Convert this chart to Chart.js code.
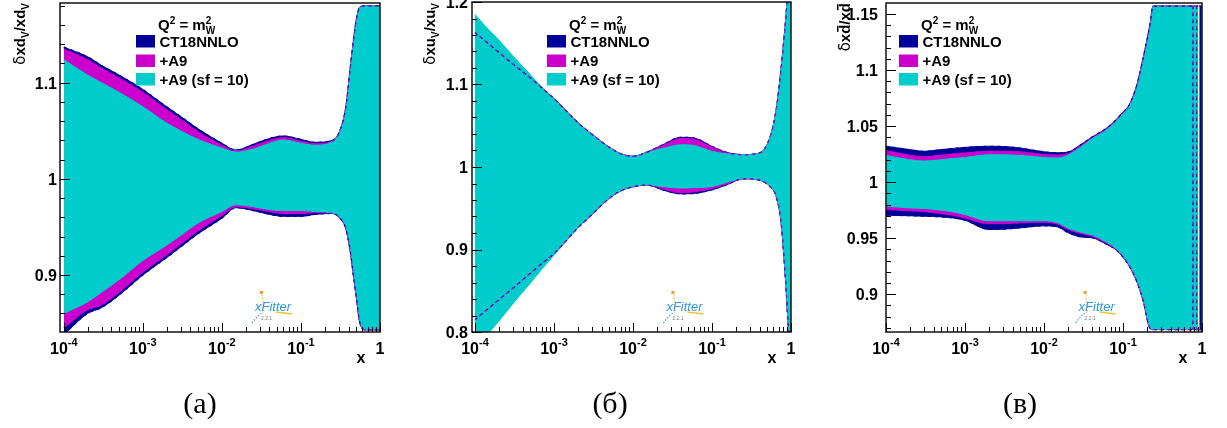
<!DOCTYPE html>
<html>
<head>
<meta charset="utf-8">
<script src="https://cdn.jsdelivr.net/npm/chart.js@4.4.1/dist/chart.umd.min.js"></script>
<style>
  html, body { margin: 0; padding: 0; background: #fff; }
  #wrap { position: relative; width: 1227px; height: 428px; overflow: hidden; }
  canvas { position: absolute; top: 0; }
</style>
</head>
<body>
<div id="wrap">
  <canvas id="pa" width="410" height="428" style="left:0px"></canvas>
  <canvas id="pb" width="410" height="428" style="left:410px"></canvas>
  <canvas id="pc" width="407" height="428" style="left:820px"></canvas>
</div>
<script>
// ---- relative uncertainty bands at Q^2 = m_W^2 ----
const legendLabels = ["CT18NNLO", "+A9", "+A9 (sf = 10)"];
const xTickExps = [-4, -3, -2, -1, 0];

// (a) d valence
const aX = [1e-4, 2e-4, 3e-4, 5e-4, 1e-3, 2e-3, 3e-3, 5e-3, 0.01, 0.015, 0.025, 0.04, 0.06, 0.1, 0.15, 0.25, 0.32, 0.37, 0.42, 0.46, 0.5, 0.55, 0.65, 1];
const aCtUp = [1.137, 1.127, 1.118, 1.108, 1.093, 1.075, 1.065, 1.052, 1.037, 1.030, 1.036, 1.042, 1.0446, 1.041, 1.038, 1.040, 1.053, 1.075, 1.115, 1.143, 1.165, 1.178, 1.18, 1.18];
const aCtLo = [0.838, 0.860, 0.866, 0.879, 0.900, 0.918, 0.929, 0.943, 0.959, 0.970, 0.967, 0.963, 0.961, 0.961, 0.963, 0.964, 0.958, 0.948, 0.925, 0.900, 0.878, 0.852, 0.843, 0.843];
const aA9Up = [1.135, 1.124, 1.115, 1.105, 1.090, 1.072, 1.062, 1.049, 1.035, 1.029, 1.034, 1.040, 1.0428, 1.039, 1.0365, 1.039, 1.053, 1.075, 1.115, 1.143, 1.165, 1.178, 1.18, 1.18];
const aA9Lo = [0.845, 0.864, 0.869, 0.882, 0.903, 0.921, 0.932, 0.946, 0.962, 0.971, 0.969, 0.966, 0.964, 0.964, 0.965, 0.964, 0.958, 0.948, 0.925, 0.900, 0.878, 0.852, 0.843, 0.843];
const aSfUp = [1.124, 1.108, 1.100, 1.090, 1.075, 1.058, 1.050, 1.041, 1.032, 1.028, 1.031, 1.037, 1.0404, 1.037, 1.035, 1.039, 1.052, 1.074, 1.114, 1.142, 1.164, 1.177, 1.18, 1.18];
const aSfLo = [0.860, 0.872, 0.882, 0.895, 0.915, 0.931, 0.941, 0.954, 0.966, 0.973, 0.971, 0.968, 0.967, 0.967, 0.966, 0.964, 0.958, 0.948, 0.925, 0.900, 0.878, 0.852, 0.843, 0.843];
const aYTicks = [0.9, 1, 1.1];

// (б) u valence
const bX = [1e-4, 1.5e-4, 2e-4, 3e-4, 5e-4, 7e-4, 1e-3, 2e-3, 3e-3, 5e-3, 7e-3, 0.01, 0.015, 0.025, 0.04, 0.06, 0.1, 0.15, 0.25, 0.4, 0.55, 0.65, 0.75, 0.85, 0.92, 1];
const bCtUp = [1.163, 1.149, 1.139, 1.125, 1.108, 1.096, 1.083, 1.054, 1.040, 1.024, 1.016, 1.013, 1.018, 1.028, 1.036, 1.035, 1.025, 1.018, 1.015, 1.017, 1.038, 1.07, 1.12, 1.175, 1.21, 1.21];
const bCtLo = [0.8148, 0.829, 0.839, 0.853, 0.871, 0.883, 0.895, 0.926, 0.942, 0.962, 0.971, 0.976, 0.978, 0.9715, 0.9675, 0.968, 0.9723, 0.978, 0.9857, 0.984, 0.9755, 0.964, 0.932, 0.865, 0.81, 0.77];
const bA9Up = [1.163, 1.149, 1.139, 1.125, 1.108, 1.096, 1.083, 1.054, 1.040, 1.024, 1.016, 1.013, 1.018, 1.027, 1.0345, 1.0335, 1.024, 1.0175, 1.015, 1.017, 1.038, 1.07, 1.12, 1.175, 1.21, 1.21];
const bA9Lo = [0.8148, 0.829, 0.839, 0.853, 0.871, 0.883, 0.895, 0.926, 0.942, 0.962, 0.971, 0.976, 0.978, 0.973, 0.969, 0.970, 0.974, 0.979, 0.9857, 0.984, 0.9755, 0.964, 0.932, 0.865, 0.81, 0.77];
const bSfUp = [1.185, 1.166, 1.154, 1.135, 1.112, 1.097, 1.083, 1.054, 1.040, 1.024, 1.016, 1.013, 1.018, 1.023, 1.027, 1.026, 1.019, 1.016, 1.015, 1.017, 1.038, 1.07, 1.12, 1.175, 1.21, 1.21];
const bSfLo = [0.778, 0.799, 0.813, 0.834, 0.859, 0.876, 0.893, 0.926, 0.942, 0.962, 0.971, 0.976, 0.978, 0.976, 0.9745, 0.975, 0.9765, 0.981, 0.9857, 0.984, 0.9755, 0.964, 0.932, 0.865, 0.81, 0.77];
const bYTicks = [0.8, 0.9, 1, 1.1, 1.2];

// (в) d-bar; null marks the point where all bands pinch off
const cX = [1e-4, 2e-4, 3e-4, 5e-4, 7e-4, 1e-3, 2e-3, 3e-3, 5e-3, 0.01, 0.015, 0.02, 0.03, 0.04, 0.06, 0.08, 0.1, 0.12, 0.15, 0.18, 0.22, 0.24, 0.893, 0.905, 0.92, 1];
const cCtUp = [1.032, 1.029, 1.0275, 1.029, 1.030, 1.031, 1.032, 1.0318, 1.0304, 1.027, 1.0262, 1.0268, 1.034, 1.040, 1.0475, 1.055, 1.0625, 1.069, 1.087, 1.111, 1.141, 1.157, 1.157, null, 1.157, 1.157];
const cCtLo = [0.9705, 0.970, 0.9696, 0.969, 0.9681, 0.966, 0.9578, 0.958, 0.9592, 0.961, 0.960, 0.955, 0.951, 0.9505, 0.945, 0.940, 0.933, 0.925, 0.911, 0.894, 0.8695, 0.8685, 0.8685, null, 0.8685, 0.8685];
const cA9Up = [1.028, 1.024, 1.0226, 1.024, 1.025, 1.026, 1.0274, 1.0274, 1.027, 1.0245, 1.024, 1.0255, 1.033, 1.0395, 1.047, 1.0545, 1.062, 1.0685, 1.0865, 1.1105, 1.1405, 1.157, 1.157, null, 1.157, 1.157];
const cA9Lo = [0.9756, 0.9745, 0.9738, 0.972, 0.9705, 0.968, 0.963, 0.963, 0.9637, 0.9643, 0.9625, 0.958, 0.954, 0.952, 0.946, 0.9405, 0.9335, 0.9255, 0.9115, 0.8943, 0.8695, 0.8685, 0.8685, null, 0.8685, 0.8685];
const cSfUp = [1.0238, 1.020, 1.0188, 1.020, 1.021, 1.022, 1.0244, 1.0244, 1.0238, 1.022, 1.0215, 1.024, 1.032, 1.0385, 1.046, 1.054, 1.0615, 1.068, 1.086, 1.110, 1.140, 1.157, 1.157, null, 1.157, 1.157];
const cSfLo = [0.9786, 0.977, 0.9765, 0.975, 0.9735, 0.971, 0.9655, 0.9655, 0.9655, 0.9655, 0.9635, 0.959, 0.955, 0.953, 0.947, 0.941, 0.934, 0.926, 0.912, 0.8946, 0.8696, 0.8685, 0.8685, null, 0.8685, 0.8685];
const cVertDashX = [0.767, 0.855];
const cVertSolidX = [0.96];
const cYTicks = [0.9, 0.95, 1, 1.05, 1.1, 1.15];

const BLUE = "#000099", MAGENTA = "#cc00cc", CYAN = "#00cccc";
const SANS = '"Liberation Sans", Arial, sans-serif';
const B = (s) => `bold ${s}px ${SANS}`;

const pts = (xs, ys) => xs.map((x, i) => ({ x, y: ys[i] }));

function band(xs, up, lo, color, order) {
  const common = { pointRadius: 0, borderWidth: 1, borderColor: color, cubicInterpolationMode: "monotone", order };
  return [
    { ...common, data: pts(xs, up), backgroundColor: color, fill: "+1" },
    { ...common, data: pts(xs, lo), fill: false },
  ];
}

function edge(data, color, offset, dashed) {
  return {
    data, borderColor: color, borderWidth: 1.2, pointRadius: 0, fill: false, order: 0,
    borderDash: dashed ? [3, 4] : [], borderDashOffset: offset,
    cubicInterpolationMode: "monotone",
  };
}

function vline(x, top, bot, color, offset, dashed) {
  const d = edge([{ x, y: top }, { x, y: bot }], color, offset, dashed);
  d.cubicInterpolationMode = "default";
  d.tension = 0;
  return d;
}

// rich text: list of {t, font, dy, keep, bar}
function partsWidth(ctx, parts) {
  let w = 0;
  for (const p of parts) { ctx.font = p.font; if (!p.keep) w += ctx.measureText(p.t).width; }
  return w;
}
function drawParts(ctx, parts, x, y) {
  for (const p of parts) {
    ctx.font = p.font;
    const w = ctx.measureText(p.t).width;
    ctx.fillText(p.t, x, y + (p.dy || 0));
    if (p.bar) ctx.fillRect(x + 2, y - 13, w - 3, 1.5);
    if (!p.keep) x += w;
  }
  return x;
}

const greek = `15px "DejaVu Sans", ${SANS}`;
const aTitle = [{ t: "δ", font: greek }, { t: "xd", font: B(15) }, { t: "V", font: B(10), dy: 4 }, { t: "/xd", font: B(15) }, { t: "V", font: B(10), dy: 4 }];
const bTitle = [{ t: "δ", font: greek }, { t: "xu", font: B(15) }, { t: "V", font: B(10), dy: 4 }, { t: "/xu", font: B(15) }, { t: "V", font: B(10), dy: 4 }];
const cTitle = [{ t: "δ", font: greek }, { t: "x", font: B(15) }, { t: "d", font: B(15), bar: true }, { t: "/x", font: B(15) }, { t: "d", font: B(15), bar: true }];
const qTitle = [{ t: "Q", font: B(15) }, { t: "2", font: B(10), dy: -6 }, { t: " = m", font: B(15) }, { t: "2", font: B(10), dy: -6, keep: true }, { t: "W", font: B(10), dy: 4 }];

function drawLogo(ctx, ox, oy) {
  ctx.save();
  ctx.lineWidth = 1.3;
  ctx.strokeStyle = "#4aa8ea";
  ctx.setLineDash([1.5, 1.5]);
  ctx.beginPath(); ctx.moveTo(ox, oy + 33); ctx.quadraticCurveTo(ox + 5, oy + 26, ox + 11, oy + 22); ctx.stroke();
  ctx.strokeStyle = "#f2c230";
  ctx.beginPath(); ctx.moveTo(ox + 10, oy + 2); ctx.lineTo(ox + 12, oy + 22); ctx.stroke();
  ctx.setLineDash([]);
  ctx.beginPath(); ctx.moveTo(ox + 24, oy + 22); ctx.lineTo(ox + 40, oy + 24); ctx.stroke();
  ctx.fillStyle = "#f0a030";
  ctx.fillRect(ox + 8, oy + 1, 3, 3);
  ctx.fillStyle = "#2f98e0";
  ctx.font = `italic 13px ${SANS}`;
  ctx.textAlign = "left"; ctx.textBaseline = "alphabetic";
  ctx.fillText("xFitter", ox + 3, oy + 20.5);
  ctx.fillStyle = "#808080";
  ctx.font = `5px ${SANS}`;
  ctx.fillText("2.2.1", ox + 9, oy + 30);
  ctx.restore();
}

function rootAxes(p) {
  return {
    id: "rootAxes",
    afterDraw(chart) {
      const ctx = chart.ctx, a = chart.chartArea;
      const xs = chart.scales.x, ys = chart.scales.y;
      ctx.save();
      ctx.fillStyle = "#000";
      ctx.strokeStyle = "#000";

      // frame
      ctx.lineWidth = 1.4;
      ctx.strokeRect(a.left, a.top, a.right - a.left, a.bottom - a.top);

      // y ticks, pointing inward
      ctx.lineWidth = 1;
      const kMin = Math.ceil(p.yMin / p.yMinor - 1e-6), kMax = Math.floor(p.yMax / p.yMinor + 1e-6);
      for (let k = kMin; k <= kMax; k++) {
        const v = k * p.yMinor;
        const major = p.yTicks.some((t) => Math.abs(t - v) < 1e-6);
        const y = Math.round(ys.getPixelForValue(v)) + 0.5;
        ctx.beginPath(); ctx.moveTo(a.left, y); ctx.lineTo(a.left + (major ? 10 : 5), y); ctx.stroke();
      }
      ctx.font = B(16); ctx.textAlign = "right"; ctx.textBaseline = "alphabetic";
      for (const t of p.yTicks) {
        ctx.fillText(String(t), a.left - p.labelGap, ys.getPixelForValue(t) + 5.8);
      }

      // x ticks, log decades
      for (const e of xTickExps) {
        const x = Math.round(xs.getPixelForValue(Math.pow(10, e))) + 0.5;
        ctx.beginPath(); ctx.moveTo(x, a.bottom); ctx.lineTo(x, a.bottom - 9); ctx.stroke();
        if (e < 0) {
          for (let m = 2; m <= 9; m++) {
            const xm = Math.round(xs.getPixelForValue(m * Math.pow(10, e))) + 0.5;
            ctx.beginPath(); ctx.moveTo(xm, a.bottom); ctx.lineTo(xm, a.bottom - 5); ctx.stroke();
          }
        }
      }
      ctx.textAlign = "left";
      for (const e of xTickExps) {
        const x = xs.getPixelForValue(Math.pow(10, e));
        if (e === 0) {
          ctx.font = B(16);
          const w = ctx.measureText("1").width;
          ctx.fillText("1", x - w / 2, a.bottom + 21.5);
          continue;
        }
        ctx.font = B(16); const wb = ctx.measureText("10").width;
        ctx.font = B(11); const we = ctx.measureText(String(e)).width;
        const x0 = x - (wb + we) / 2;
        ctx.font = B(16); ctx.fillText("10", x0, a.bottom + 21.5);
        ctx.font = B(11); ctx.fillText(String(e), x0 + wb, a.bottom + 14);
      }
      ctx.font = B(16);
      ctx.fillText("x", a.right - 23.5, a.bottom + 31);

      // y title, rotated and aligned to the top
      ctx.save();
      ctx.translate(p.titleX, 3);
      ctx.rotate(-Math.PI / 2);
      const tw = partsWidth(ctx, p.title);
      drawParts(ctx, p.title, -tw, 5.5);
      ctx.restore();

      // legend
      const lx = a.left + p.legendDx;
      drawParts(ctx, qTitle, lx + 22, 29.5);
      const colors = [BLUE, MAGENTA, CYAN];
      const rowTop = [35, 54.5, 73];
      legendLabels.forEach((lab, i) => {
        ctx.fillStyle = colors[i];
        ctx.fillRect(lx, rowTop[i], 19, 12.5);
        ctx.fillStyle = "#000";
        ctx.font = B(15);
        ctx.fillText(lab, lx + 23.5, rowTop[i] + 11.6);
      });

      drawLogo(ctx, a.left + 0.6 * (a.right - a.left), 290);

      // sub-figure caption
      ctx.fillStyle = "#000";
      ctx.font = '30px "Liberation Serif", "DejaVu Serif", serif';
      ctx.textAlign = "center";
      ctx.fillText(p.caption, 200, 413);
      ctx.restore();
    },
  };
}

function makePanel(p) {
  const datasets = [
    ...p.edges,
    ...band(p.x, p.sf[0], p.sf[1], CYAN, 1),
    ...band(p.x, p.a9[0], p.a9[1], MAGENTA, 2),
    ...band(p.x, p.ct[0], p.ct[1], BLUE, 3),
  ];
  // fill targets are relative (+1), so band pairs stay adjacent
  return new Chart(document.getElementById(p.id), {
    type: "line",
    data: { datasets },
    options: {
      responsive: false,
      animation: false,
      events: [],
      layout: { padding: p.pad },
      scales: {
        x: { type: "logarithmic", min: p.xMin, max: 1, display: false },
        y: { type: "linear", min: p.yMin, max: p.yMax, display: false },
      },
      plugins: { legend: { display: false }, tooltip: { enabled: false } },
    },
    plugins: [rootAxes(p)],
  });
}

function stdEdges(xs, ct, a9) {
  return [
    edge(pts(xs, a9[0]), MAGENTA, 1.5, true),
    edge(pts(xs, a9[1]), MAGENTA, 1.5, true),
    edge(pts(xs, ct[0]), BLUE, 0, true),
    edge(pts(xs, ct[1]), BLUE, 0, true),
  ];
}

const cTop = cCtUp[cCtUp.length - 1], cBot = cCtLo[cCtLo.length - 1];
const cExtra = [];
for (const v of cVertDashX) {
  cExtra.push(vline(v, cTop, cBot, MAGENTA, 1.5, true));
  cExtra.push(vline(v, cTop, cBot, BLUE, 0, true));
}
for (const v of cVertSolidX) cExtra.push(vline(v, cTop, cBot, BLUE, 0, false));

makePanel({
  id: "pa", x: aX, ct: [aCtUp, aCtLo], a9: [aA9Up, aA9Lo], sf: [aSfUp, aSfLo],
  edges: stdEdges(aX, [aCtUp, aCtLo], [aA9Up, aA9Lo]),
  xMin: 8.95e-5, yMin: 0.8407, yMax: 1.1829, yTicks: aYTicks, yMinor: 0.02,
  pad: { left: 60, right: 30, top: 3, bottom: 96 },
  title: aTitle, titleX: 19, labelGap: 3, legendDx: 76, caption: "(a)",
});
makePanel({
  id: "pb", x: bX, ct: [bCtUp, bCtLo], a9: [bA9Up, bA9Lo], sf: [bSfUp, bSfLo],
  edges: stdEdges(bX, [bCtUp, bCtLo], [bA9Up, bA9Lo]),
  xMin: 9.16e-5, yMin: 0.8, yMax: 1.2, yTicks: bYTicks, yMinor: 0.02,
  pad: { left: 62, right: 29, top: 2, bottom: 96 },
  title: bTitle, titleX: 19, labelGap: 4, legendDx: 75, caption: "(б)",
});
makePanel({
  id: "pc", x: cX, ct: [cCtUp, cCtLo], a9: [cA9Up, cA9Lo], sf: [cSfUp, cSfLo],
  edges: [...cExtra, ...stdEdges(cX, [cCtUp, cCtLo], [cA9Up, cA9Lo])],
  xMin: 1e-4, yMin: 0.8663, yMax: 1.1598, yTicks: cYTicks, yMinor: 0.01,
  pad: { left: 66, right: 25, top: 3, bottom: 96 },
  title: cTitle, titleX: 24.5, labelGap: 8, legendDx: 13, caption: "(в)",
});
</script>
</body>
</html>
